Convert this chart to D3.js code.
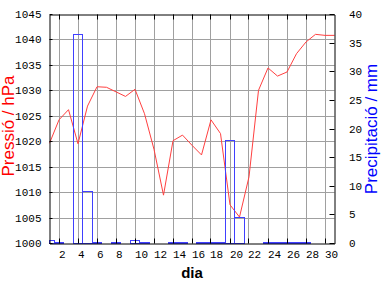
<!DOCTYPE html>
<html><head><meta charset="utf-8">
<script src="https://cdn.jsdelivr.net/npm/d3@7"></script>
<style>body{margin:0;background:#fff}svg{display:block}</style>
</head><body>
<svg id="c" width="384" height="288"></svg>
<script>
const days = [1,2,3,4,5,6,7,8,9,10,11,12,13,14,15,16,17,18,19,20,21,22,23,24,25,26,27,28,29,30,31];
const pressure = [1019.7,1024.3,1026.3,1019.6,1027.0,1030.8,1030.7,1029.8,1028.9,1030.3,1025.5,1018.5,1009.5,1020.2,1021.3,1019.3,1017.4,1024.3,1021.6,1007.6,1005.2,1013.1,1030.1,1034.5,1032.9,1033.7,1037.3,1039.6,1041.1,1040.9,1040.9];
const precipitation = [0.6,0.2,0,36.5,9.0,0.2,0,0.2,0,0.6,0.2,0,0,0.2,0.2,0,0.2,0.2,0.2,18.0,4.5,0,0,0.2,0.2,0.2,0.2,0.2,0,0,0];
const xTickValues = [2,4,6,8,10,12,14,16,18,20,22,24,26,28,30];
const pressureTicks = [1000,1005,1010,1015,1020,1025,1030,1035,1040,1045];
const precipTicks = [0,5,10,15,20,25,30,35,40];

const W = 384, H = 288, L = 49.5, R = 334.5, T = 14.5, B = 243.5;
const svg = d3.select("#c");
svg.append("rect").attr("width", W).attr("height", H).attr("fill", "#fff");

const x = d3.scaleLinear().domain([1, 31]).range([L, R]);
const yP = d3.scaleLinear().domain([1000, 1045]).range([B, T]);
const yR = d3.scaleLinear().domain([0, 40]).range([B, T]);
const snap = v => Math.floor(v) + 0.5;

// grid
const grid = svg.append("g").attr("stroke", "#a0a0a0").attr("stroke-width", 1);
grid.selectAll("line.v").data(xTickValues).join("line").attr("class", "v")
  .attr("x1", d => snap(x(d))).attr("x2", d => snap(x(d))).attr("y1", T).attr("y2", B);
grid.selectAll("line.h").data(pressureTicks.slice(1, -1)).join("line").attr("class", "h")
  .attr("x1", L).attr("x2", R).attr("y1", d => snap(yP(d))).attr("y2", d => snap(yP(d)));

// pressure line
const pts = days.map((d, i) => ({d: d, p: pressure[i]}));
svg.append("path").datum(pts)
  .attr("fill", "none").attr("stroke", "#ff4040").attr("stroke-width", 1)
  .attr("d", d3.line().x(d => x(d.d)).y(d => yP(d.p)));

// precipitation bars
const bars = days.map((d, i) => ({d: d, v: precipitation[i]})).filter(b => b.v > 0);
svg.append("g").selectAll("rect").data(bars).join("rect")
  .attr("x", b => snap(Math.max(L, x(b.d - 0.5))))
  .attr("width", b => snap(Math.min(R, x(b.d + 0.5))) - snap(Math.max(L, x(b.d - 0.5))))
  .attr("y", b => snap(yR(b.v)))
  .attr("height", b => B - snap(yR(b.v)))
  .attr("fill", "none").attr("stroke", "#4040ff").attr("stroke-width", 1);

// axes
const monoFont = "'Liberation Mono', 'DejaVu Sans Mono', monospace";
function styleAxis(g) {
  g.selectAll("path.domain").attr("stroke", "#000");
  g.selectAll(".tick line").attr("stroke", "#000");
  g.selectAll("text").attr("fill", "#000").style("font-family", monoFont).style("font-size", "11px");
}
const xb = svg.append("g").attr("transform", `translate(0,${B})`)
  .call(d3.axisBottom(x).tickValues(xTickValues).tickSizeInner(-5).tickSizeOuter(0).tickPadding(7).tickFormat(d3.format("d")));
styleAxis(xb);
xb.selectAll(".tick").attr("transform", d => `translate(${snap(x(d))},0)`);
xb.selectAll("text").attr("text-anchor", "start").attr("x", -0.5);

const xt = svg.append("g").attr("transform", `translate(0,${T})`)
  .call(d3.axisTop(x).tickValues(xTickValues).tickSizeInner(-5).tickSizeOuter(0).tickFormat(""));
styleAxis(xt);
xt.selectAll(".tick").attr("transform", d => `translate(${snap(x(d))},0)`);

const yl = svg.append("g").attr("transform", `translate(${L},0)`)
  .call(d3.axisLeft(yP).tickValues(pressureTicks).tickSizeInner(-3).tickSizeOuter(0).tickPadding(8).tickFormat(d3.format("d")));
styleAxis(yl);
yl.selectAll(".tick").attr("transform", d => `translate(0,${snap(yP(d))})`);

const yr = svg.append("g").attr("transform", `translate(${R},0)`)
  .call(d3.axisRight(yR).tickValues(precipTicks).tickSizeInner(-5).tickSizeOuter(0).tickPadding(14.5).tickFormat(d3.format("d")));
styleAxis(yr);
yr.selectAll(".tick").attr("transform", d => `translate(0,${snap(yR(d))})`);

// titles
const sans = "'Liberation Sans', Arial, sans-serif";
svg.append("text").attr("transform", `translate(13.5,${(T + B) / 2 - 3}) rotate(-90)`)
  .attr("text-anchor", "middle").attr("fill", "#ff0000")
  .style("font-family", sans).style("font-size", "17px").text("Pressió / hPa");
svg.append("text").attr("transform", `translate(376.5,${(T + B) / 2}) rotate(-90)`)
  .attr("text-anchor", "middle").attr("fill", "#0000ff")
  .style("font-family", sans).style("font-size", "17px").text("Precipitació / mm");
svg.append("text").attr("x", (L + R) / 2).attr("y", 277.5)
  .attr("text-anchor", "middle").attr("fill", "#000")
  .style("font-family", sans).style("font-size", "15px").style("font-weight", "bold").text("dia");
</script>
</body></html>
